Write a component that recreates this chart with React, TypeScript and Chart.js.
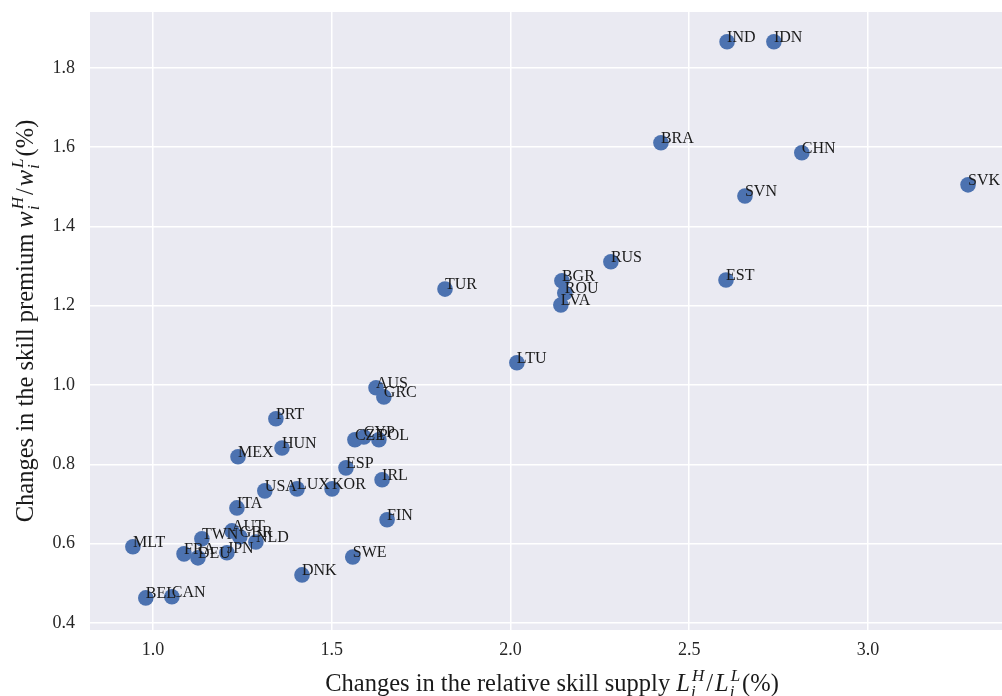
import React, { useEffect, useRef } from "react";
import { Chart, registerables } from "chart.js";
Chart.register(...registerables);

const countries = ["IND", "IDN", "BRA", "CHN", "SVK", "SVN", "RUS", "BGR", "ROU", "LVA", "EST", "TUR", "LTU", "AUS", "GRC", "CZE", "CYP", "POL", "PRT", "HUN", "MEX", "ESP", "IRL", "USA", "LUX", "KOR", "FIN", "ITA", "AUT", "TWN", "GBR", "NLD", "JPN", "FRA", "DEU", "MLT", "BEL", "CAN", "DNK", "SWE"];
const supplyChange = [2.606, 2.737, 2.421, 2.815, 3.280, 2.656, 2.281, 2.144, 2.152, 2.141, 2.603, 1.817, 2.018, 1.624, 1.646, 1.565, 1.590, 1.632, 1.344, 1.361, 1.238, 1.540, 1.641, 1.313, 1.403, 1.501, 1.655, 1.235, 1.221, 1.137, 1.243, 1.288, 1.207, 1.087, 1.126, 0.944, 0.980, 1.053, 1.417, 1.559];
const premiumChange = [1.866, 1.866, 1.611, 1.586, 1.505, 1.477, 1.311, 1.263, 1.232, 1.202, 1.265, 1.242, 1.056, 0.993, 0.970, 0.862, 0.869, 0.862, 0.915, 0.841, 0.819, 0.791, 0.761, 0.733, 0.738, 0.738, 0.660, 0.690, 0.632, 0.612, 0.617, 0.604, 0.577, 0.574, 0.564, 0.592, 0.463, 0.466, 0.521, 0.566];
const xTickValues = [1.0, 1.5, 2.0, 2.5, 3.0];
const yTickValues = [0.4, 0.6, 0.8, 1.0, 1.2, 1.4, 1.6, 1.8];

const xTitleParts = [
  { kind: "text", t: "Changes in the relative skill supply " },
  { kind: "var", t: "L" },
  { kind: "subsup", sub: "i", sup: "H" },
  { kind: "text", t: "/" },
  { kind: "var", t: "L" },
  { kind: "subsup", sub: "i", sup: "L" },
  { kind: "text", t: "(%)" },
];
const yTitleParts = [
  { kind: "text", t: "Changes in the skill premium " },
  { kind: "var", t: "w" },
  { kind: "subsup", sub: "i", sup: "H" },
  { kind: "text", t: "/" },
  { kind: "var", t: "w" },
  { kind: "subsup", sub: "i", sup: "L" },
  { kind: "text", t: "(%)" },
];

const SERIF = '"Liberation Serif", "Times New Roman", "DejaVu Serif", serif';
const BASE = 24.5;
const SCRIPT = 17;

function fontFor(italic: boolean, size: number) {
  return `${italic ? "italic " : ""}${size}px ${SERIF}`;
}

function partWidth(ctx: CanvasRenderingContext2D, p: any) {
  if (p.kind === "text") {
    ctx.font = fontFor(false, BASE);
    return ctx.measureText(p.t).width + (p.t === "/" ? 2 : 0);
  }
  if (p.kind === "var") {
    ctx.font = fontFor(true, BASE);
    return ctx.measureText(p.t).width + 1;
  }
  ctx.font = fontFor(true, SCRIPT);
  return Math.max(ctx.measureText(p.sub).width, ctx.measureText(p.sup).width) + 3;
}

function drawMath(ctx: CanvasRenderingContext2D, parts: any[]) {
  const total = parts.reduce((s, p) => s + partWidth(ctx, p), 0);
  let x = -total / 2;
  ctx.textAlign = "left";
  ctx.textBaseline = "alphabetic";
  for (const p of parts) {
    const w = partWidth(ctx, p);
    if (p.kind === "text") {
      ctx.font = fontFor(false, BASE);
      ctx.fillText(p.t, x, 0);
    } else if (p.kind === "var") {
      ctx.font = fontFor(true, BASE);
      ctx.fillText(p.t, x, 0);
    } else {
      ctx.font = fontFor(true, SCRIPT);
      ctx.fillText(p.sub, x, 6);
      ctx.fillText(p.sup, x + 1, -10);
    }
    x += w;
  }
}

const bgPlugin = {
  id: "bg",
  beforeDraw(chart: any) {
    const { ctx, chartArea: a } = chart;
    ctx.save();
    ctx.fillStyle = "#EAEAF2";
    ctx.fillRect(a.left, a.top, a.right - a.left, a.bottom - a.top);
    ctx.restore();
  },
};

const labelPlugin = {
  id: "pointLabels",
  afterDatasetsDraw(chart: any) {
    const { ctx } = chart;
    const meta = chart.getDatasetMeta(0);
    ctx.save();
    ctx.font = `16px ${SERIF}`;
    ctx.fillStyle = "#1a1a1a";
    ctx.textAlign = "left";
    ctx.textBaseline = "alphabetic";
    meta.data.forEach((pt: any, i: number) => {
      ctx.fillText(countries[i], pt.x, pt.y);
    });
    ctx.restore();
  },
};

const titlePlugin = {
  id: "mathTitles",
  afterDraw(chart: any) {
    const { ctx, chartArea: a } = chart;
    ctx.save();
    ctx.fillStyle = "#1a1a1a";
    ctx.translate((a.left + a.right) / 2 + 6, 691);
    drawMath(ctx, xTitleParts);
    ctx.restore();
    ctx.save();
    ctx.fillStyle = "#1a1a1a";
    ctx.translate(33, (a.top + a.bottom) / 2);
    ctx.rotate(-Math.PI / 2);
    drawMath(ctx, yTitleParts);
    ctx.restore();
  },
};

export default function App() {
  const ref = useRef<HTMLCanvasElement>(null);
  useEffect(() => {
    const chart = new Chart(ref.current!, {
      type: "scatter",
      data: {
        datasets: [
          {
            data: supplyChange.map((x, i) => ({ x, y: premiumChange[i] })),
            backgroundColor: "#4C72B0",
            borderWidth: 0,
            pointRadius: 7.8,
            pointHoverRadius: 7.8,
          },
        ],
      },
      options: {
        responsive: false,
        animation: false,
        events: [],
        layout: { autoPadding: false, padding: { top: 12, right: 0, left: 0, bottom: 0 } },
        plugins: { legend: { display: false }, tooltip: { enabled: false } },
        scales: {
          x: {
            type: "linear",
            min: 0.824,
            max: 3.375,
            afterFit: (s: any) => {
              s.height = 66;
              s.paddingLeft = 0;
              s.paddingRight = 0;
            },
            afterBuildTicks: (s: any) => { s.ticks = xTickValues.map((v) => ({ value: v })); },
            grid: { color: "#ffffff", lineWidth: 1.5, drawTicks: false },
            border: { display: false },
            ticks: {
              padding: 9,
              color: "#262626",
              font: { family: SERIF, size: 18 },
              callback: (v: any) => Number(v).toFixed(1),
            },
          },
          y: {
            type: "linear",
            min: 0.382,
            max: 1.941,
            afterFit: (s: any) => {
              s.width = 90;
              s.paddingTop = 0;
              s.paddingBottom = 0;
            },
            afterBuildTicks: (s: any) => { s.ticks = yTickValues.map((v) => ({ value: v })); },
            grid: { color: "#ffffff", lineWidth: 1.5, drawTicks: false },
            border: { display: false },
            ticks: {
              padding: 15,
              color: "#262626",
              font: { family: SERIF, size: 18 },
              callback: (v: any) => Number(v).toFixed(1),
            },
          },
        },
      },
      plugins: [bgPlugin, labelPlugin, titlePlugin],
    });
    return () => chart.destroy();
  }, []);
  return (
    <div style={{ position: "fixed", left: 0, top: 0, width: 1002, height: 696, background: "#fff" }}>
      <canvas ref={ref} width={1002} height={696} style={{ width: 1002, height: 696, display: "block" }} />
    </div>
  );
}
